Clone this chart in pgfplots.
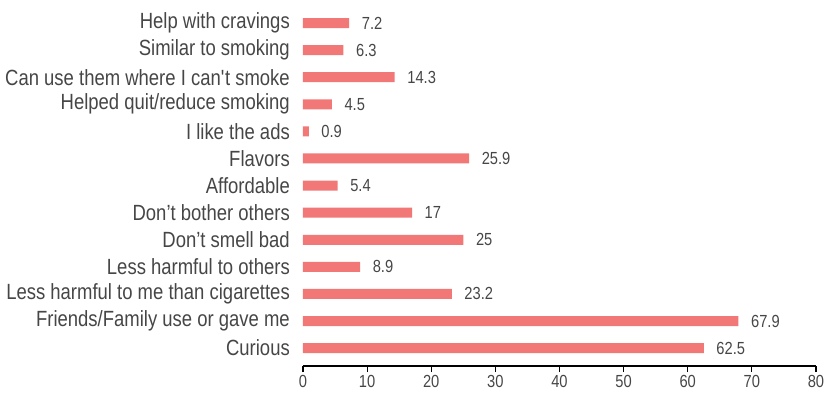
\documentclass[border=0pt]{standalone}
\usepackage{fontspec}
\setmainfont{Liberation Sans}[FakeStretch=0.84]
\usepackage{pgfplots}
\pgfplotsset{compat=1.18}
\definecolor{barc}{RGB}{242,120,120}
\definecolor{txt}{RGB}{70,70,70}
\begin{document}
\begin{tikzpicture}[x=1pt,y=1pt]
\useasboundingbox (-303,-30) rectangle (523,366);
\begin{axis}[
  at={(0,0)}, anchor=south west,
  scale only axis, width=513pt, height=356.5pt,
  xmin=0, xmax=80, ymin=-0.66, ymax=12.5,
  xbar, bar width=10pt, bar shift=0pt,
  axis x line*=bottom, axis y line*=left,
  x axis line style={-, black, line width=1.2pt},
  y axis line style={draw=none},
  xtick={0,10,...,80},
  ytick={0,1,...,12},
  yticklabels={Curious\hspace{6pt}, Friends/Family use or gave me, Less harmful to me than cigarettes, Less harmful to others, Don’t smell bad, Don’t bother others, Affordable, Flavors, I like the ads, Helped quit/reduce smoking, Can use them where I can\textquotesingle t smoke, Similar to smoking, Help with cravings},
  tick align=outside, major tick length=6pt,
  xtick style={black, line width=1.2pt},
  ytick style={draw=none},
  /pgf/number format/assume math mode=true,
  xticklabel style={font=\fontsize{17.5}{17.5}\selectfont, text=txt, inner sep=0pt, yshift=-3pt},
  yticklabel style={font=\fontsize{22}{22}\selectfont, text=txt, inner sep=0pt, anchor=east, xshift=-7pt},
  nodes near coords,
  every node near coord/.append style={font=\fontsize{17.5}{17.5}\selectfont, text=txt, anchor=west, inner sep=0pt, xshift=12.5pt},
  clip=false,
]
\addplot[fill=barc, draw=none] coordinates {
  (62.5,0) (67.9,1) (23.2,2) (8.9,3) (25,4) (17,5) (5.4,6)
  (25.9,7) (0.9,8) (4.5,9) (14.3,10) (6.3,11) (7.2,12)
};
\end{axis}
\end{tikzpicture}
\end{document}
